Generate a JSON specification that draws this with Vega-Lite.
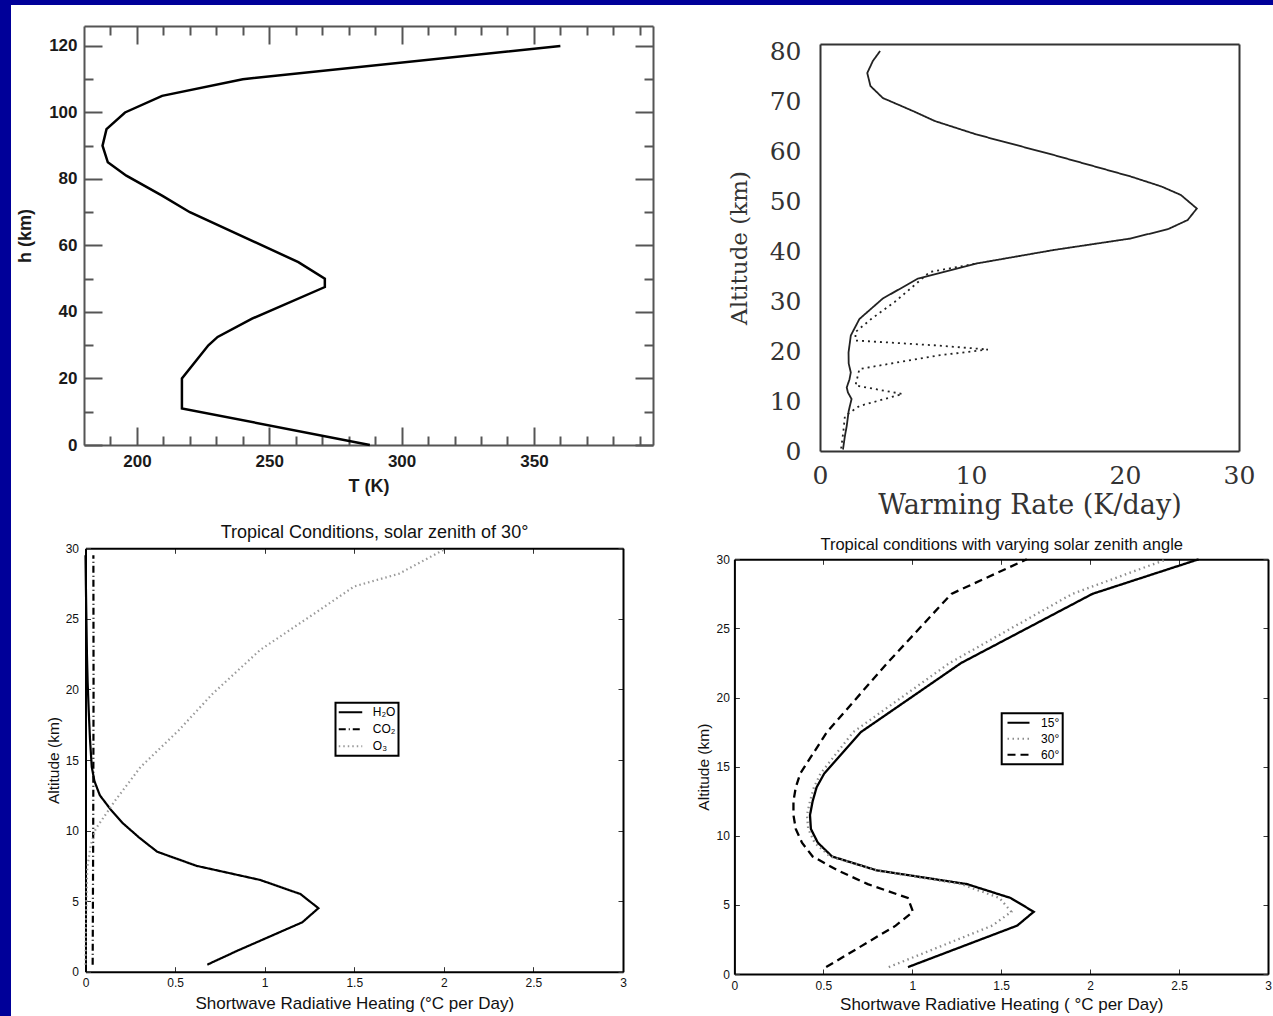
{
"$schema": "https://vega.github.io/schema/vega-lite/v6.json",
"width": 1262, "height": 1011,
"autosize": "none",
"padding": {"left": 11, "top": 5, "right": 0, "bottom": 0},
"background": "#000099",
"config": {"view": {"fill": "white", "stroke": null}, "axis": {"grid": false, "labelFlush": false, "labelOverlap": false}},
"datasets": {
"p1": [{"T":288,"h":0},{"T":217,"h":11},{"T":217,"h":20},{"T":227,"h":30},{"T":230.5,"h":32.5},{"T":243.5,"h":38},{"T":271,"h":47.5},{"T":271,"h":50},{"T":261,"h":55},{"T":220,"h":70},{"T":209.5,"h":75},{"T":196,"h":81},{"T":189,"h":85},{"T":187,"h":90},{"T":188.5,"h":95},{"T":195.5,"h":100},{"T":209.5,"h":105},{"T":240,"h":110},{"T":360,"h":120}],
"p2": [
{"s":"solid","r":1.52,"h":0.3},{"s":"solid","r":1.65,"h":3},{"s":"solid","r":1.77,"h":5},{"s":"solid","r":1.9,"h":8},{"s":"solid","r":2.09,"h":10.4},{"s":"solid","r":1.85,"h":11.7},{"s":"solid","r":1.77,"h":12.7},{"s":"solid","r":1.95,"h":14.3},{"s":"solid","r":2.04,"h":15.7},{"s":"solid","r":1.9,"h":17.5},{"s":"solid","r":1.89,"h":19.7},{"s":"solid","r":2.04,"h":23.1},{"s":"solid","r":2.61,"h":26.4},{"s":"solid","r":4.16,"h":30.5},{"s":"solid","r":6.5,"h":34.5},{"s":"solid","r":10.36,"h":37.5},{"s":"solid","r":15.37,"h":40.2},{"s":"solid","r":20.5,"h":42.5},{"s":"solid","r":23.8,"h":44.4},{"s":"solid","r":25.5,"h":46.2},{"s":"solid","r":26.3,"h":48.5},{"s":"solid","r":24.9,"h":51.2},{"s":"solid","r":23.2,"h":52.9},{"s":"solid","r":20.5,"h":54.9},{"s":"solid","r":15.37,"h":59.2},{"s":"solid","r":10.36,"h":63.3},{"s":"solid","r":7.6,"h":66},{"s":"solid","r":6.23,"h":67.9},{"s":"solid","r":4.16,"h":70.6},{"s":"solid","r":3.34,"h":73},{"s":"solid","r":3.13,"h":75.6},{"s":"solid","r":3.5,"h":78},{"s":"solid","r":3.98,"h":80},
{"s":"dotted","r":1.4,"h":0.5},{"s":"dotted","r":1.55,"h":4},{"s":"dotted","r":1.65,"h":7},{"s":"dotted","r":2.61,"h":9.0},{"s":"dotted","r":5.46,"h":11.4},{"s":"dotted","r":2.35,"h":13.1},{"s":"dotted","r":2.61,"h":16.4},{"s":"dotted","r":7.79,"h":19.1},{"s":"dotted","r":11.1,"h":20.3},{"s":"dotted","r":7.79,"h":21.1},{"s":"dotted","r":2.35,"h":22.1},{"s":"dotted","r":2.35,"h":23.8},{"s":"dotted","r":3.39,"h":26.4},{"s":"dotted","r":4.94,"h":29.8},{"s":"dotted","r":6.23,"h":33.1},{"s":"dotted","r":7.27,"h":35.8},{"s":"dotted","r":10.36,"h":37.5}
],
"p3": [
{"g":"H₂O","r":0.68,"h":0.5},{"g":"H₂O","r":0.85,"h":1.5},{"g":"H₂O","r":1.03,"h":2.5},{"g":"H₂O","r":1.21,"h":3.5},{"g":"H₂O","r":1.3,"h":4.5},{"g":"H₂O","r":1.2,"h":5.5},{"g":"H₂O","r":0.975,"h":6.5},{"g":"H₂O","r":0.62,"h":7.5},{"g":"H₂O","r":0.4,"h":8.5},{"g":"H₂O","r":0.3,"h":9.5},{"g":"H₂O","r":0.21,"h":10.5},{"g":"H₂O","r":0.14,"h":11.5},{"g":"H₂O","r":0.08,"h":12.5},{"g":"H₂O","r":0.05,"h":13.5},{"g":"H₂O","r":0.035,"h":14.5},{"g":"H₂O","r":0.025,"h":16.5},{"g":"H₂O","r":0.018,"h":18.5},{"g":"H₂O","r":0.012,"h":20.5},{"g":"H₂O","r":0.008,"h":22.5},{"g":"H₂O","r":0.005,"h":25},{"g":"H₂O","r":0.002,"h":27.5},{"g":"H₂O","r":0.0,"h":29.5},
{"g":"CO₂","r":0.04,"h":0.5},{"g":"CO₂","r":0.043,"h":10},{"g":"CO₂","r":0.045,"h":20},{"g":"CO₂","r":0.044,"h":29.5},
{"g":"O₃","r":0.0,"h":0.5},{"g":"O₃","r":0.002,"h":3},{"g":"O₃","r":0.005,"h":5},{"g":"O₃","r":0.01,"h":7.4},{"g":"O₃","r":0.03,"h":9},{"g":"O₃","r":0.056,"h":10.1},{"g":"O₃","r":0.164,"h":12.1},{"g":"O₃","r":0.307,"h":14.5},{"g":"O₃","r":0.52,"h":17.1},{"g":"O₃","r":0.71,"h":19.7},{"g":"O₃","r":0.975,"h":22.8},{"g":"O₃","r":1.28,"h":25.4},{"g":"O₃","r":1.5,"h":27.3},{"g":"O₃","r":1.75,"h":28.2},{"g":"O₃","r":2.0,"h":29.9}
],
"p4": [
{"a":"15°","r":0.976,"h":0.5},{"a":"15°","r":1.59,"h":3.5},{"a":"15°","r":1.683,"h":4.5},{"a":"15°","r":1.553,"h":5.5},{"a":"15°","r":1.308,"h":6.5},{"a":"15°","r":0.8,"h":7.5},{"a":"15°","r":0.549,"h":8.5},{"a":"15°","r":0.469,"h":9.5},{"a":"15°","r":0.43,"h":10.5},{"a":"15°","r":0.425,"h":11.5},{"a":"15°","r":0.44,"h":12.5},{"a":"15°","r":0.462,"h":13.5},{"a":"15°","r":0.505,"h":14.5},{"a":"15°","r":0.711,"h":17.5},{"a":"15°","r":1.275,"h":22.5},{"a":"15°","r":2.013,"h":27.5},{"a":"15°","r":2.61,"h":30},
{"a":"30°","r":0.868,"h":0.5},{"a":"30°","r":1.45,"h":3.5},{"a":"30°","r":1.557,"h":4.5},{"a":"30°","r":1.49,"h":5.5},{"a":"30°","r":1.275,"h":6.5},{"a":"30°","r":0.8,"h":7.5},{"a":"30°","r":0.538,"h":8.5},{"a":"30°","r":0.451,"h":9.5},{"a":"30°","r":0.415,"h":10.5},{"a":"30°","r":0.408,"h":11.5},{"a":"30°","r":0.425,"h":12.5},{"a":"30°","r":0.447,"h":13.5},{"a":"30°","r":0.484,"h":14.5},{"a":"30°","r":0.668,"h":17.5},{"a":"30°","r":1.21,"h":22.5},{"a":"30°","r":1.9,"h":27.5},{"a":"30°","r":2.43,"h":30},
{"a":"60°","r":0.516,"h":0.5},{"a":"60°","r":0.907,"h":3.5},{"a":"60°","r":1.004,"h":4.5},{"a":"60°","r":0.975,"h":5.5},{"a":"60°","r":0.75,"h":6.5},{"a":"60°","r":0.58,"h":7.5},{"a":"60°","r":0.44,"h":8.5},{"a":"60°","r":0.38,"h":9.5},{"a":"60°","r":0.345,"h":10.5},{"a":"60°","r":0.332,"h":11.5},{"a":"60°","r":0.332,"h":12.5},{"a":"60°","r":0.345,"h":13.5},{"a":"60°","r":0.37,"h":14.5},{"a":"60°","r":0.52,"h":17.5},{"a":"60°","r":0.86,"h":22.5},{"a":"60°","r":1.22,"h":27.5},{"a":"60°","r":1.644,"h":30}
]
},
"resolve": {"scale": {"x": "independent", "y": "independent", "color": "independent", "strokeDash": "independent"}, "axis": {"x": "independent", "y": "independent"}, "legend": {"color": "independent", "strokeDash": "independent"}},
"layer": [
{
 "data": {"name": "p1"},
 "resolve": {"axis": {"x": "independent", "y": "independent"}},
 "layer": [
  {"mark": {"type": "line", "color": "black", "strokeWidth": 2.5},
   "encoding": {
    "x": {"field": "T", "type": "quantitative", "scale": {"domain": [180, 395], "range": [73, 642], "zero": false, "nice": false},
      "axis": {"orient": "bottom", "offset": -571, "values": [200, 250, 300, 350], "tickSize": -18, "tickWidth": 2, "tickColor": "#555", "domainColor": "#555", "domainWidth": 2, "labelPadding": 26, "labelFont": "Liberation Sans", "labelFontSize": 17, "labelFontWeight": "bold", "labelColor": "#1a1a1a", "title": "T (K)", "titleFont": "Liberation Sans", "titleFontSize": 18, "titleFontWeight": "bold", "titleColor": "#1a1a1a", "titlePadding": 8}},
    "y": {"field": "h", "type": "quantitative", "scale": {"domain": [0, 126], "range": [440, 21], "zero": false, "nice": false},
      "axis": {"orient": "left", "offset": -73, "values": [0, 20, 40, 60, 80, 100, 120], "tickSize": -18, "tickWidth": 2, "tickColor": "#555", "domainColor": "#555", "domainWidth": 2, "labelPadding": 25, "labelFont": "Liberation Sans", "labelFontSize": 17, "labelFontWeight": "bold", "labelColor": "#1a1a1a", "title": "h (km)", "titleFont": "Liberation Sans", "titleFontSize": 18, "titleFontWeight": "bold", "titleColor": "#1a1a1a", "titlePadding": 14}},
    "order": {"field": "h", "type": "quantitative"}
   }},
  {"mark": {"type": "line", "strokeOpacity": 0},
   "encoding": {
    "x": {"field": "T", "type": "quantitative", "scale": {"domain": [180, 395], "range": [73, 642], "zero": false, "nice": false},
      "axis": {"orient": "bottom", "offset": -571, "values": [190, 210, 220, 230, 240, 260, 270, 280, 290, 310, 320, 330, 340, 360, 370, 380, 390], "tickSize": -9, "tickWidth": 2, "tickColor": "#555", "domain": false, "labels": false, "title": null}},
    "y": {"field": "h", "type": "quantitative", "scale": {"domain": [0, 126], "range": [440, 21], "zero": false, "nice": false},
      "axis": {"orient": "left", "offset": -73, "values": [10, 30, 50, 70, 90, 110], "tickSize": -9, "tickWidth": 2, "tickColor": "#555", "domain": false, "labels": false, "title": null}},
    "order": {"field": "h", "type": "quantitative"}
   }},
  {"mark": {"type": "line", "strokeOpacity": 0},
   "encoding": {
    "x": {"field": "T", "type": "quantitative", "scale": {"domain": [180, 395], "range": [73, 642], "zero": false, "nice": false},
      "axis": {"orient": "top", "offset": -21, "values": [200, 250, 300, 350], "tickSize": -18, "tickWidth": 2, "tickColor": "#555", "domainColor": "#555", "domainWidth": 2, "labels": false, "title": null}},
    "y": {"field": "h", "type": "quantitative", "scale": {"domain": [0, 126], "range": [440, 21], "zero": false, "nice": false},
      "axis": {"orient": "right", "offset": -620, "values": [0, 20, 40, 60, 80, 100, 120], "tickSize": -18, "tickWidth": 2, "tickColor": "#555", "domainColor": "#555", "domainWidth": 2, "labels": false, "title": null}},
    "order": {"field": "h", "type": "quantitative"}
   }},
  {"mark": {"type": "line", "strokeOpacity": 0},
   "encoding": {
    "x": {"field": "T", "type": "quantitative", "scale": {"domain": [180, 395], "range": [73, 642], "zero": false, "nice": false},
      "axis": {"orient": "top", "offset": -21, "values": [190, 210, 220, 230, 240, 260, 270, 280, 290, 310, 320, 330, 340, 360, 370, 380, 390], "tickSize": -9, "tickWidth": 2, "tickColor": "#555", "domain": false, "labels": false, "title": null}},
    "y": {"field": "h", "type": "quantitative", "scale": {"domain": [0, 126], "range": [440, 21], "zero": false, "nice": false},
      "axis": {"orient": "right", "offset": -620, "values": [10, 30, 50, 70, 90, 110], "tickSize": -9, "tickWidth": 2, "tickColor": "#555", "domain": false, "labels": false, "title": null}},
    "order": {"field": "h", "type": "quantitative"}
   }}
 ]
},
{
 "data": {"name": "p2"},
 "resolve": {"axis": {"x": "independent", "y": "independent"}},
 "layer": [
  {"mark": {"type": "line", "color": "#222", "strokeWidth": 1.8},
   "encoding": {
    "x": {"field": "r", "type": "quantitative", "scale": {"domain": [0, 10, 20, 30], "range": [809, 960, 1114, 1228], "zero": false, "nice": false},
      "axis": {"orient": "bottom", "offset": -565, "values": [0, 10, 20, 30], "ticks": false, "domainColor": "#333", "domainWidth": 2, "labelPadding": 12, "labelFont": "DejaVu Serif", "labelFontSize": 25, "labelColor": "#333", "title": "Warming Rate (K/day)", "titleFont": "DejaVu Serif", "titleFontSize": 27, "titleFontWeight": "normal", "titleColor": "#333", "titlePadding": 4}},
    "y": {"field": "h", "type": "quantitative", "scale": {"domain": [0, 81.4], "range": [446, 39], "zero": false, "nice": false},
      "axis": {"orient": "left", "offset": -809, "values": [0, 10, 20, 30, 40, 50, 60, 70, 80], "ticks": false, "domainColor": "#333", "domainWidth": 2, "labelPadding": 19, "labelFont": "DejaVu Serif", "labelFontSize": 25, "labelColor": "#333", "title": "Altitude (km)", "titleFont": "DejaVu Serif", "titleFontSize": 23, "titleFontWeight": "normal", "titleColor": "#333", "titlePadding": 18}},
    "strokeDash": {"field": "s", "type": "nominal", "scale": {"domain": ["solid", "dotted"], "range": [[1, 0], [2, 4]]}, "legend": null},
    "order": {"field": "h", "type": "quantitative"}
   }},
  {"mark": {"type": "line", "strokeOpacity": 0},
   "encoding": {
    "x": {"field": "r", "type": "quantitative", "scale": {"domain": [0, 10, 20, 30], "range": [809, 960, 1114, 1228], "zero": false, "nice": false},
      "axis": {"orient": "top", "offset": -39, "ticks": false, "labels": false, "domainColor": "#333", "domainWidth": 2, "title": null}},
    "y": {"field": "h", "type": "quantitative", "scale": {"domain": [0, 81.4], "range": [446, 39], "zero": false, "nice": false},
      "axis": {"orient": "right", "offset": -34, "ticks": false, "labels": false, "domainColor": "#333", "domainWidth": 2, "title": null}},
    "order": {"field": "h", "type": "quantitative"}
   }}
 ]
},
{
 "data": {"name": "p3"},
 "resolve": {"axis": {"x": "independent", "y": "independent"}},
 "layer": [
  {"mark": {"type": "line", "strokeWidth": 2.2},
   "encoding": {
    "x": {"field": "r", "type": "quantitative", "scale": {"domain": [0, 3], "range": [74.5, 612], "zero": false, "nice": false},
      "axis": {"orient": "bottom", "offset": -44.3, "values": [0, 0.5, 1, 1.5, 2, 2.5, 3], "format": "~g", "tickSize": -5, "tickWidth": 1, "tickColor": "#333", "domainColor": "black", "domainWidth": 2, "labelPadding": 11, "labelFont": "Liberation Sans", "labelFontSize": 12, "labelColor": "#111", "title": "Shortwave Radiative Heating (°C per Day)", "titleFont": "Liberation Sans", "titleFontSize": 17, "titleFontWeight": "normal", "titleColor": "#111", "titlePadding": 7}},
    "y": {"field": "h", "type": "quantitative", "scale": {"domain": [0, 30], "range": [966.7, 543.3], "zero": false, "nice": false},
      "axis": {"orient": "left", "offset": -74.5, "values": [0, 5, 10, 15, 20, 25, 30], "tickSize": -5, "tickWidth": 1, "tickColor": "#333", "domainColor": "black", "domainWidth": 2, "labelPadding": 12, "labelFont": "Liberation Sans", "labelFontSize": 12, "labelColor": "#111", "title": "Altitude (km)", "titleFont": "Liberation Sans", "titleFontSize": 15.5, "titleFontWeight": "normal", "titleColor": "#111", "titlePadding": 4}},
    "color": {"field": "g", "type": "nominal", "scale": {"domain": ["H₂O", "CO₂", "O₃"], "range": ["black", "black", "#9a9a9a"]},
      "legend": {"orient": "none", "legendX": 324.5, "legendY": 697.7, "title": null, "padding": 2.6, "strokeColor": "black", "fillColor": "white", "symbolType": "M-2,0H2", "symbolSize": 138, "symbolStrokeWidth": 2, "symbolOffset": 5.4, "labelOffset": 15.3, "labelFont": "Liberation Sans", "labelFontSize": 12, "labelColor": "black", "rowPadding": 4, "encode": {"legend": {"update": {"strokeWidth": {"value": 2}}}}}},
    "strokeDash": {"field": "g", "type": "nominal", "scale": {"domain": ["H₂O", "CO₂", "O₃"], "range": [[1, 0], [7, 3, 1, 3], [1.5, 3]]},
      "legend": {"orient": "none", "legendX": 324.5, "legendY": 697.7, "title": null, "padding": 2.6, "strokeColor": "black", "fillColor": "white", "symbolType": "M-2,0H2", "symbolSize": 138, "symbolStrokeWidth": 2, "symbolOffset": 5.4, "labelOffset": 15.3, "labelFont": "Liberation Sans", "labelFontSize": 12, "labelColor": "black", "rowPadding": 4, "encode": {"legend": {"update": {"strokeWidth": {"value": 2}}}}}},
    "order": {"field": "h", "type": "quantitative"}
   }},
  {"mark": {"type": "line", "strokeOpacity": 0},
   "encoding": {
    "x": {"field": "r", "type": "quantitative", "scale": {"domain": [0, 3], "range": [74.5, 612], "zero": false, "nice": false},
      "axis": {"orient": "top", "offset": -543.3, "values": [0, 0.5, 1, 1.5, 2, 2.5, 3], "tickSize": -5, "tickWidth": 1, "tickColor": "#333", "domainColor": "black", "domainWidth": 2, "labels": false, "title": "Tropical Conditions, solar zenith of 30°", "titleX": 363, "titleFont": "Liberation Sans", "titleFontSize": 18, "titleFontWeight": "normal", "titleColor": "#111", "titlePadding": 6}},
    "y": {"field": "h", "type": "quantitative", "scale": {"domain": [0, 30], "range": [966.7, 543.3], "zero": false, "nice": false},
      "axis": {"orient": "right", "offset": -650, "values": [0, 5, 10, 15, 20, 25, 30], "tickSize": -5, "tickWidth": 1, "tickColor": "#333", "domainColor": "black", "domainWidth": 2, "labels": false, "title": null}},
    "order": {"field": "h", "type": "quantitative"}
   }}
 ]
},
{
 "data": {"name": "p4"},
 "resolve": {"axis": {"x": "independent", "y": "independent"}},
 "layer": [
  {"mark": {"type": "line", "strokeWidth": 2.3},
   "encoding": {
    "x": {"field": "r", "type": "quantitative", "scale": {"domain": [0, 3], "range": [723.4, 1257], "zero": false, "nice": false},
      "axis": {"orient": "bottom", "offset": -42, "values": [0, 0.5, 1, 1.5, 2, 2.5, 3], "format": "~g", "tickSize": -5, "tickWidth": 1, "tickColor": "#333", "domainColor": "black", "domainWidth": 2, "labelPadding": 11, "labelFont": "Liberation Sans", "labelFontSize": 12, "labelColor": "#111", "title": "Shortwave Radiative Heating ( °C per Day)", "titleFont": "Liberation Sans", "titleFontSize": 17, "titleFontWeight": "normal", "titleColor": "#111", "titlePadding": 5}},
    "y": {"field": "h", "type": "quantitative", "scale": {"domain": [0, 30], "range": [969, 554.3], "zero": false, "nice": false},
      "axis": {"orient": "left", "offset": -723.4, "values": [0, 5, 10, 15, 20, 25, 30], "tickSize": -5, "tickWidth": 1, "tickColor": "#333", "domainColor": "black", "domainWidth": 2, "labelPadding": 10, "labelFont": "Liberation Sans", "labelFontSize": 12, "labelColor": "#111", "title": "Altitude (km)", "titleFont": "Liberation Sans", "titleFontSize": 15.5, "titleFontWeight": "normal", "titleColor": "#111", "titlePadding": 5}},
    "color": {"field": "a", "type": "nominal", "scale": {"domain": ["15°", "30°", "60°"], "range": ["black", "#8c8c8c", "black"]},
      "legend": {"orient": "none", "legendX": 990.7, "legendY": 708.3, "title": null, "padding": 2.9, "strokeColor": "black", "fillColor": "white", "symbolType": "M-2,0H2", "symbolSize": 121, "symbolStrokeWidth": 2, "symbolOffset": 7.4, "labelOffset": 16.1, "labelFont": "Liberation Sans", "labelFontSize": 12, "labelColor": "black", "rowPadding": 3, "encode": {"legend": {"update": {"strokeWidth": {"value": 2}}}}}},
    "strokeDash": {"field": "a", "type": "nominal", "scale": {"domain": ["15°", "30°", "60°"], "range": [[1, 0], [1.5, 3.5], [8, 5]]},
      "legend": {"orient": "none", "legendX": 990.7, "legendY": 708.3, "title": null, "padding": 2.9, "strokeColor": "black", "fillColor": "white", "symbolType": "M-2,0H2", "symbolSize": 121, "symbolStrokeWidth": 2, "symbolOffset": 7.4, "labelOffset": 16.1, "labelFont": "Liberation Sans", "labelFontSize": 12, "labelColor": "black", "rowPadding": 3, "encode": {"legend": {"update": {"strokeWidth": {"value": 2}}}}}},
    "order": {"field": "h", "type": "quantitative"}
   }},
  {"mark": {"type": "line", "strokeOpacity": 0},
   "encoding": {
    "x": {"field": "r", "type": "quantitative", "scale": {"domain": [0, 3], "range": [723.4, 1257], "zero": false, "nice": false},
      "axis": {"orient": "top", "offset": -554.3, "values": [0, 0.5, 1, 1.5, 2, 2.5, 3], "tickSize": -5, "tickWidth": 1, "tickColor": "#333", "domainColor": "black", "domainWidth": 2, "labels": false, "title": "Tropical conditions with varying solar zenith angle", "titleFont": "Liberation Sans", "titleFontSize": 16.5, "titleFontWeight": "normal", "titleColor": "#111", "titlePadding": 6}},
    "y": {"field": "h", "type": "quantitative", "scale": {"domain": [0, 30], "range": [969, 554.3], "zero": false, "nice": false},
      "axis": {"orient": "right", "offset": -5, "values": [0, 5, 10, 15, 20, 25, 30], "tickSize": -5, "tickWidth": 1, "tickColor": "#333", "domainColor": "black", "domainWidth": 2, "labels": false, "title": null}},
    "order": {"field": "h", "type": "quantitative"}
   }}
 ]
}
]
}
